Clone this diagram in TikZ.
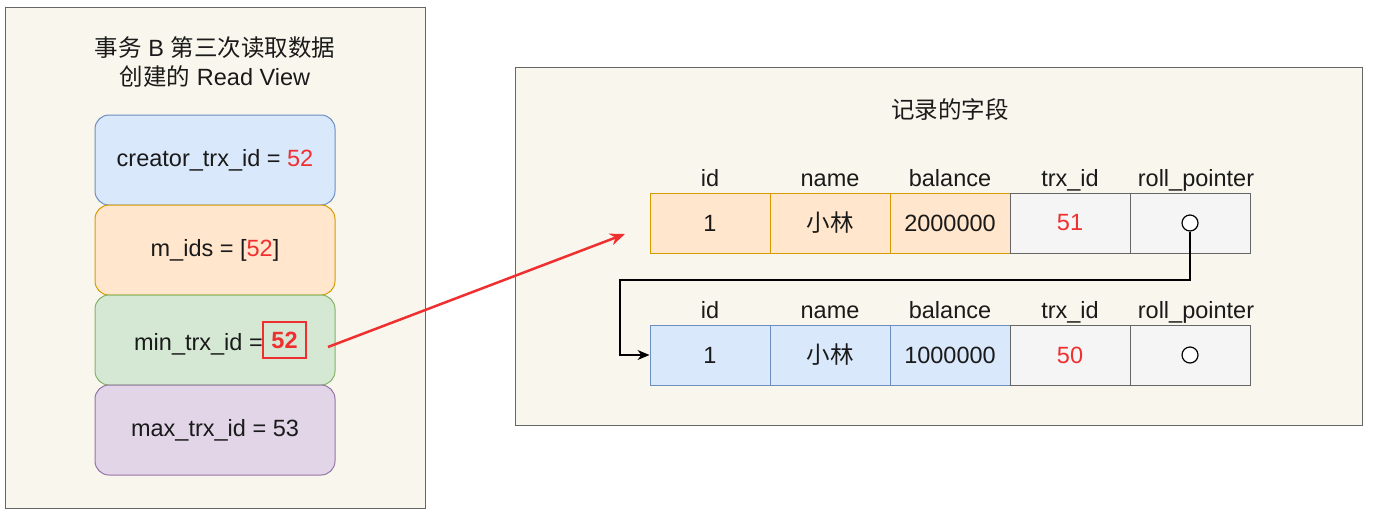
\documentclass[tikz,border=0pt]{standalone}
\usepackage{fontspec}
\setmainfont{Liberation Sans}
\newfontfamily\cjk{Noto Sans CJK SC}
\usetikzlibrary{arrows.meta}
\definecolor{cream}{HTML}{F9F7ED}
\definecolor{frame}{HTML}{666666}
\definecolor{bluef}{HTML}{DAE8FC}\definecolor{blued}{HTML}{6C8EBF}
\definecolor{orangef}{HTML}{FFE6CC}\definecolor{oranged}{HTML}{D79B00}
\definecolor{greenf}{HTML}{D5E8D4}\definecolor{greend}{HTML}{82B366}
\definecolor{purplef}{HTML}{E1D5E7}\definecolor{purpled}{HTML}{9673A6}
\definecolor{grayf}{HTML}{F5F5F5}\definecolor{grayd}{HTML}{666666}
\definecolor{txt}{HTML}{1A1A1A}
\definecolor{redv}{HTML}{F03030}
\tikzset{
  panel/.style={draw=frame, fill=cream, line width=1pt},
  rv/.style={rounded corners=14pt, minimum width=240pt, minimum height=90pt, line width=1pt, text=txt, font=\fontsize{23.5}{28}\selectfont},
  cell/.style={minimum width=120pt, minimum height=60pt, line width=1pt, text=txt, font=\fontsize{23.5}{28}\selectfont, inner sep=0pt},
  hdr/.style={text=txt, font=\fontsize{23.5}{28}\selectfont, inner sep=0pt, anchor=base},
  ttl/.style={text=txt, font=\fontsize{23.5}{28}\selectfont, inner sep=0pt, align=center},
  ptr/.style={circle, draw=black, fill=white, minimum size=16pt, inner sep=0pt, line width=1.2pt},
}
\begin{document}
\begin{tikzpicture}[x=1pt,y=-1pt]
\useasboundingbox (0,0) rectangle (1373,517);
\fill[white] (0,0) rectangle (1373,517);
% left panel
\draw[panel] (5,7) rectangle (425,508);
\node[ttl] (t1) at (215,48) {{\cjk 事务} B {\cjk 第三次读取数据}};
\node[ttl] (t2) at (215,77) {{\cjk 创建的} Read View};
\node[rv, draw=blued, fill=bluef] (b1) at (215,160) {creator\_trx\_id = \textcolor{redv}{52}};
\node[rv, draw=oranged, fill=orangef] (b2) at (215,250) {m\_ids = [\textcolor{redv}{52}]};
\node[rv, draw=greend, fill=greenf] (b3) at (215,340) {};
\node[rv, draw=purpled, fill=purplef] (b4) at (215,430) {max\_trx\_id = 53};
\node[hdr, anchor=base east] (mt) at (263,350) {min\_trx\_id =};
\node[draw=redv, line width=1.5pt, minimum width=43pt, minimum height=36pt, inner sep=0pt,
      text=redv, font=\fontsize{23.5}{28}\selectfont\bfseries] (v52) at (284.5,340) {52};
% right panel
\draw[panel] (515,67) rectangle (1362,425);
\node[ttl] (t3) at (950,110) {{\cjk 记录的字段}};
% headers
\foreach \n/\h/\dx [count=\i] in {id/id/0, name/name/0, balance/balance/0, trx/trx\_id/0, roll/roll\_pointer/6}{
  \node[hdr] (h1\n) at (590+120*\i+\dx,186) {\h};
  \node[hdr] (h2\n) at (590+120*\i+\dx,318) {\h};
}
% row 1
\node[cell, draw=oranged, fill=orangef] (r1c1) at (710,223) {1};
\node[cell, draw=oranged, fill=orangef] (r1c2) at (830,223) {\cjk 小林};
\node[cell, draw=oranged, fill=orangef] (r1c3) at (950,223) {2000000};
\node[cell, draw=grayd, fill=grayf, text=redv] (r1c4) at (1070,223) {51};
\node[cell, draw=grayd, fill=grayf] (r1c5) at (1190,223) {};
% row 2
\node[cell, draw=blued, fill=bluef] (r2c1) at (710,355) {1};
\node[cell, draw=blued, fill=bluef] (r2c2) at (830,355) {\cjk 小林};
\node[cell, draw=blued, fill=bluef] (r2c3) at (950,355) {1000000};
\node[cell, draw=grayd, fill=grayf, text=redv] (r2c4) at (1070,355) {50};
\node[cell, draw=grayd, fill=grayf] (r2c5) at (1190,355) {};
\node[ptr] (p1) at (1190,223) {};
\node[ptr] (p2) at (1190,355) {};
% connectors
\coordinate (k1) at (1190,280);
\coordinate (k2) at (620,280);
\coordinate (k3) at (620,355);
\draw[line width=1.2pt, -{Stealth[length=12pt,width=10pt]}] (p1.south) -- (k1) -- (k2) -- (k3) -- (r2c1.west);
\coordinate (as) at (328,347);
\coordinate (ae) at (625,234);
\draw[redv, line width=2.5pt, -{Stealth[length=15pt,width=12pt]}] (as) -- (ae);
\end{tikzpicture}
\end{document}
